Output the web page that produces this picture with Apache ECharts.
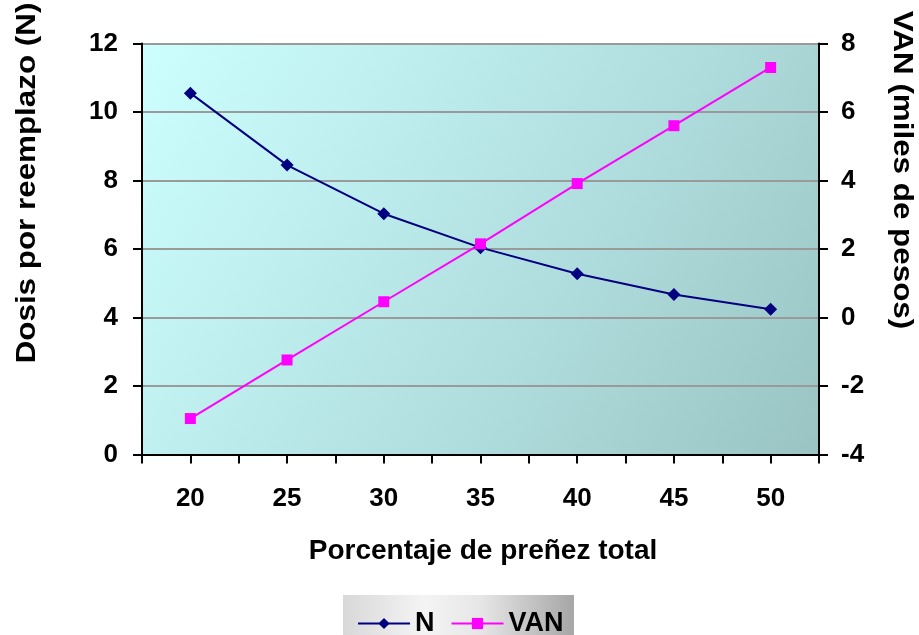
<!DOCTYPE html>
<html>
<head>
<meta charset="utf-8">
<script src="https://cdn.jsdelivr.net/npm/echarts@6/dist/echarts.min.js"></script>
<style>
  html, body { margin: 0; padding: 0; background: #ffffff; }
  #chart { width: 919px; height: 635px; }
</style>
</head>
<body>
<div id="chart"></div>
<script>
// Pregnancy rate (%) on the x axis
const pregnancy = [20, 25, 30, 35, 40, 45, 50];
// Doses per replacement (left axis)
const doses = [10.55, 8.45, 7.03, 6.04, 5.28, 4.67, 4.24];
// Net present value, thousands of pesos (right axis)
const van = [-2.95, -1.24, 0.46, 2.15, 3.91, 5.6, 7.3];

const leftTicks = { min: 0, max: 12, step: 2 };
const rightTicks = { min: -4, max: 8, step: 2 };

const FONT = '"Liberation Sans", Arial, sans-serif';
const chart = echarts.init(document.getElementById('chart'));

const boldLabel = { color: '#000', fontFamily: FONT, fontWeight: 'bold', fontSize: 26 };
const titleStyle = {
  fill: '#000', fontFamily: FONT, fontWeight: 'bold', fontSize: 28,
  textAlign: 'center', textVerticalAlign: 'middle'
};

chart.setOption({
  animation: false,
  grid: {
    left: 142, right: 100, top: 43.5, bottom: 180.5,
    show: true,
    borderWidth: 0,
    backgroundColor: new echarts.graphic.LinearGradient(0, 0, 1, 1, [
      { offset: 0, color: '#CDFFFF' },
      { offset: 0.5, color: '#B5E3E3' },
      { offset: 1, color: '#9AC4C4' }
    ])
  },
  graphic: [
    {
      type: 'rect', z: 0,
      shape: { x: 343, y: 595, width: 231, height: 50 },
      style: {
        fill: new echarts.graphic.LinearGradient(0, 0, 1, 0, [
          { offset: 0, color: '#D8D8D8' },
          { offset: 0.35, color: '#F4F4F4' },
          { offset: 0.6, color: '#E6E6E6' },
          { offset: 1, color: '#A6A6A6' }
        ])
      }
    },
    {
      type: 'text', x: 27, y: 183, rotation: Math.PI / 2, scaleX: 1.12,
      style: Object.assign({ text: 'Dosis por reemplazo (N)' }, titleStyle)
    },
    {
      type: 'text', x: 902, y: 170, rotation: -Math.PI / 2, scaleX: 1.12,
      style: Object.assign({ text: 'VAN (miles de pesos)' }, titleStyle)
    },
    {
      type: 'text', x: 483, y: 551,
      style: Object.assign({ text: 'Porcentaje de preñez total' }, titleStyle)
    }
  ],
  legend: {
    left: 352, top: 605,
    itemWidth: 52, itemHeight: 14, itemGap: 16,
    textStyle: Object.assign({}, boldLabel, { fontSize: 27 }),
    data: ['N', 'VAN']
  },
  xAxis: {
    type: 'value',
    min: 17.5, max: 52.5, interval: 2.5,
    axisLine: { onZero: false, lineStyle: { color: '#000', width: 2 } },
    axisTick: { show: true, length: 9, lineStyle: { color: '#000', width: 2 } },
    axisLabel: Object.assign({}, boldLabel, {
      margin: 31,
      formatter: v => (v % 5 === 0 ? String(v) : '')
    }),
    splitLine: { show: false }
  },
  yAxis: [
    {
      type: 'value', position: 'left',
      min: leftTicks.min, max: leftTicks.max, interval: leftTicks.step,
      axisLine: { show: true, lineStyle: { color: '#000', width: 2 } },
      axisTick: { show: true, length: 9, lineStyle: { color: '#000', width: 2 } },
      axisLabel: Object.assign({}, boldLabel, { margin: 24 }),
      splitLine: { show: true, lineStyle: { color: '#9A9A9A', width: 2 } }
    },
    {
      type: 'value', position: 'right',
      min: rightTicks.min, max: rightTicks.max, interval: rightTicks.step,
      axisLine: { show: true, lineStyle: { color: '#000', width: 2 } },
      axisTick: { show: true, length: 9, lineStyle: { color: '#000', width: 2 } },
      axisLabel: Object.assign({}, boldLabel, { margin: 22 }),
      splitLine: { show: false }
    }
  ],
  series: [
    {
      name: 'N', type: 'line', yAxisIndex: 0,
      data: pregnancy.map((p, i) => [p, doses[i]]),
      symbol: 'diamond', symbolSize: 13,
      lineStyle: { color: '#000080', width: 2 },
      itemStyle: { color: '#000080' }
    },
    {
      name: 'VAN', type: 'line', yAxisIndex: 1,
      data: pregnancy.map((p, i) => [p, van[i]]),
      symbol: 'rect', symbolSize: 11,
      lineStyle: { color: '#FF00FF', width: 2 },
      itemStyle: { color: '#FF00FF' }
    }
  ]
});
</script>
</body>
</html>
